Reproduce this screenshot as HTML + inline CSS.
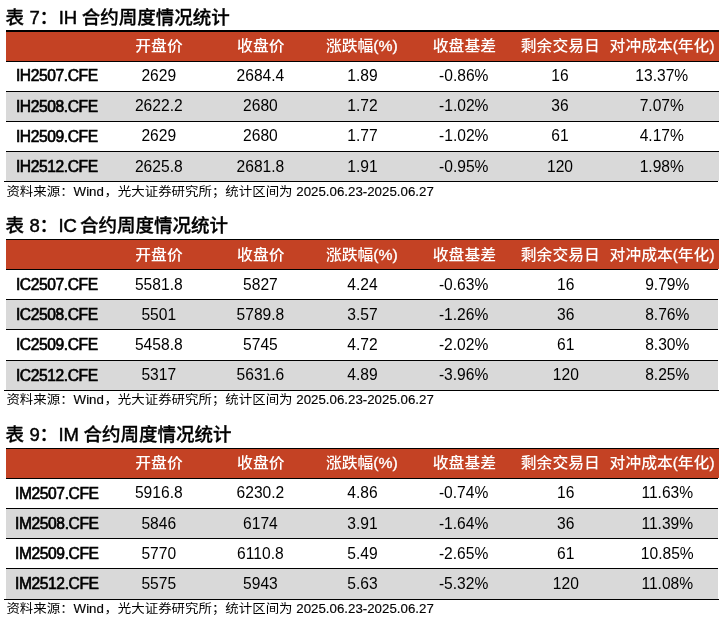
<!DOCTYPE html><html lang="zh-CN"><head><meta charset="utf-8"><title>合约周度情况统计</title><style>
html,body{margin:0;padding:0;background:#fff;}
body{width:723px;height:619px;position:relative;overflow:hidden;font-family:"Liberation Sans","Noto Sans CJK SC",sans-serif;color:#000;}
div,span{position:absolute;white-space:nowrap;}
.title{left:0;width:300px;height:26px;font-size:18.5px;line-height:26px;font-weight:500;-webkit-text-stroke:0.3px #000;}
.title span{top:0;}
.title .la{-webkit-text-stroke:0.45px #000;}
.bk{background:#000;}
.src span{position:static;font-size:13.3px;margin-right:0.5px;-webkit-text-stroke:0.15px #000;}
.src span+span{margin-right:0;}
.h .p{position:static;-webkit-text-stroke:0.35px #fff;}
.h .q{font-size:15px;}
.hd{left:6px;width:713px;background:#C44224;}
.ln{left:6px;width:713px;height:1px;background:#000;}
.bl{left:4px;width:714px;height:1px;background:#000;}
.g{left:6px;width:713px;background:#D9D9D9;}
.h{height:29px;line-height:29px;width:140px;text-align:center;color:#fff;font-weight:500;font-size:15.8px;transform:scaleY(0.95);transform-origin:50% 50%;}
.c{height:29px;line-height:29px;width:140px;text-align:center;font-size:15.6px;}
.n{left:-13.2px;width:140px;text-align:center;height:29px;line-height:29px;font-weight:400;-webkit-text-stroke:0.65px #000;font-size:15.6px;letter-spacing:-0.4px;}
.src{left:6.4px;font-size:13.45px;line-height:18px;height:18px;transform:scaleY(0.9);transform-origin:0 50%;}
</style></head><body>
<div class="title" style="top:5.3px"><span style="left:5.5px">表 </span><span class="la" style="left:29.4px">7</span><span style="left:39.4px">：</span><span class="la" style="left:58.7px">IH </span><span style="left:81.7px">合约周度情况统计</span></div>
<div class="bk" style="left:6px;width:713px;top:30px;height:2px"></div>
<div class="hd" style="top:32px;height:29px"></div>
<div class="h" style="top:31.1px;left:89px">开盘价</div>
<div class="h" style="top:31.1px;left:190.8px">收盘价</div>
<div class="h" style="top:31.1px;left:291.9px">涨跌幅<span class="p">(%)</span></div>
<div class="h" style="top:31.1px;left:394.4px">收盘基差</div>
<div class="h" style="top:31.1px;left:490.3px">剩余交易日</div>
<div class="h" style="top:31.1px;left:592.0px">对冲成本<span class="p q">(</span>年化<span class="p q">)</span></div>
<div class="n" style="top:61.0px">IH2507.CFE</div>
<div class="c" style="top:61.0px;left:88.8px">2629</div>
<div class="c" style="top:61.0px;left:190.4px">2684.4</div>
<div class="c" style="top:61.0px;left:292.4px">1.89</div>
<div class="c" style="top:61.0px;left:393.8px">-0.86%</div>
<div class="c" style="top:61.0px;left:490px">16</div>
<div class="c" style="top:61.0px;left:591.8px">13.37%</div>
<div class="g" style="top:92px;height:29px;width:713px"></div>
<div class="n" style="top:92.3px">IH2508.CFE</div>
<div class="c" style="top:91.3px;left:88.8px">2622.2</div>
<div class="c" style="top:91.3px;left:190.4px">2680</div>
<div class="c" style="top:91.3px;left:292.4px">1.72</div>
<div class="c" style="top:91.3px;left:393.8px">-1.02%</div>
<div class="c" style="top:91.3px;left:490px">36</div>
<div class="c" style="top:91.3px;left:591.8px">7.07%</div>
<div class="n" style="top:122.3px">IH2509.CFE</div>
<div class="c" style="top:121.0px;left:88.8px">2629</div>
<div class="c" style="top:121.0px;left:190.4px">2680</div>
<div class="c" style="top:121.0px;left:292.4px">1.77</div>
<div class="c" style="top:121.0px;left:393.8px">-1.02%</div>
<div class="c" style="top:121.0px;left:490px">61</div>
<div class="c" style="top:121.0px;left:591.8px">4.17%</div>
<div class="g" style="top:152px;height:29px;width:713px"></div>
<div class="n" style="top:152.3px">IH2512.CFE</div>
<div class="c" style="top:151.9px;left:88.8px">2625.8</div>
<div class="c" style="top:151.9px;left:190.4px">2681.8</div>
<div class="c" style="top:151.9px;left:292.4px">1.91</div>
<div class="c" style="top:151.9px;left:393.8px">-0.95%</div>
<div class="c" style="top:151.9px;left:490px">120</div>
<div class="c" style="top:151.9px;left:591.8px">1.98%</div>
<div class="ln" style="top:61px;width:713px"></div>
<div class="ln" style="top:91px;width:713px"></div>
<div class="ln" style="top:121px;width:713px"></div>
<div class="ln" style="top:151px;width:713px"></div>
<div class="bl" style="top:181px;width:714px"></div>
<div class="src" style="top:182.8px">资料来源：<span>Wind</span>，光大证券研究所；统计区间为 <span>2025.06.23-2025.06.27</span></div>
<div class="title" style="top:213.3px"><span style="left:5.5px">表 </span><span class="la" style="left:29.4px">8</span><span style="left:39.4px">：</span><span class="la" style="left:58.4px">IC </span><span style="left:79.9px">合约周度情况统计</span></div>
<div class="bk" style="left:6px;width:713px;top:239px;height:1px"></div>
<div class="hd" style="top:240px;height:29px"></div>
<div class="h" style="top:239.7px;left:89px">开盘价</div>
<div class="h" style="top:239.7px;left:190.8px">收盘价</div>
<div class="h" style="top:239.7px;left:291.9px">涨跌幅<span class="p">(%)</span></div>
<div class="h" style="top:239.7px;left:394.4px">收盘基差</div>
<div class="h" style="top:239.7px;left:490.3px">剩余交易日</div>
<div class="h" style="top:239.7px;left:592.0px">对冲成本<span class="p q">(</span>年化<span class="p q">)</span></div>
<div class="n" style="top:270.4px">IC2507.CFE</div>
<div class="c" style="top:270.1px;left:88.8px">5581.8</div>
<div class="c" style="top:270.1px;left:190.4px">5827</div>
<div class="c" style="top:270.1px;left:292.4px">4.24</div>
<div class="c" style="top:270.1px;left:393.6px">-0.63%</div>
<div class="c" style="top:270.1px;left:495.8px">16</div>
<div class="c" style="top:270.1px;left:597.3px">9.79%</div>
<div class="g" style="top:300px;height:29px;width:712px"></div>
<div class="n" style="top:300.3px">IC2508.CFE</div>
<div class="c" style="top:300.1px;left:88.8px">5501</div>
<div class="c" style="top:300.1px;left:190.4px">5789.8</div>
<div class="c" style="top:300.1px;left:292.4px">3.57</div>
<div class="c" style="top:300.1px;left:393.6px">-1.26%</div>
<div class="c" style="top:300.1px;left:495.8px">36</div>
<div class="c" style="top:300.1px;left:597.3px">8.76%</div>
<div class="n" style="top:330.3px">IC2509.CFE</div>
<div class="c" style="top:330.1px;left:88.8px">5458.8</div>
<div class="c" style="top:330.1px;left:190.4px">5745</div>
<div class="c" style="top:330.1px;left:292.4px">4.72</div>
<div class="c" style="top:330.1px;left:393.6px">-2.02%</div>
<div class="c" style="top:330.1px;left:495.8px">61</div>
<div class="c" style="top:330.1px;left:597.3px">8.30%</div>
<div class="g" style="top:361px;height:29px;width:712px"></div>
<div class="n" style="top:361.2px">IC2512.CFE</div>
<div class="c" style="top:360.4px;left:88.8px">5317</div>
<div class="c" style="top:360.4px;left:190.4px">5631.6</div>
<div class="c" style="top:360.4px;left:292.4px">4.89</div>
<div class="c" style="top:360.4px;left:393.6px">-3.96%</div>
<div class="c" style="top:360.4px;left:495.8px">120</div>
<div class="c" style="top:360.4px;left:597.3px">8.25%</div>
<div class="ln" style="top:269px;width:712px"></div>
<div class="ln" style="top:299px;width:712px"></div>
<div class="ln" style="top:329px;width:712px"></div>
<div class="ln" style="top:360px;width:712px"></div>
<div class="bl" style="top:390px;width:715px"></div>
<div class="src" style="top:391.4px">资料来源：<span>Wind</span>，光大证券研究所；统计区间为 <span>2025.06.23-2025.06.27</span></div>
<div class="title" style="top:422.3px"><span style="left:5.5px">表 </span><span class="la" style="left:29.4px">9</span><span style="left:39.4px">：</span><span class="la" style="left:58.4px">IM </span><span style="left:83.4px">合约周度情况统计</span></div>
<div class="bk" style="left:6px;width:713px;top:448px;height:1px"></div>
<div class="hd" style="top:449px;height:29px"></div>
<div class="h" style="top:448.1px;left:89px">开盘价</div>
<div class="h" style="top:448.1px;left:190.8px">收盘价</div>
<div class="h" style="top:448.1px;left:291.9px">涨跌幅<span class="p">(%)</span></div>
<div class="h" style="top:448.1px;left:394.4px">收盘基差</div>
<div class="h" style="top:448.1px;left:490.3px">剩余交易日</div>
<div class="h" style="top:448.1px;left:592.0px">对冲成本<span class="p q">(</span>年化<span class="p q">)</span></div>
<div class="n" style="top:479.3px">IM2507.CFE</div>
<div class="c" style="top:478.3px;left:88.8px">5916.8</div>
<div class="c" style="top:478.3px;left:190.4px">6230.2</div>
<div class="c" style="top:478.3px;left:292.4px">4.86</div>
<div class="c" style="top:478.3px;left:393.6px">-0.74%</div>
<div class="c" style="top:478.3px;left:495.8px">16</div>
<div class="c" style="top:478.3px;left:597.3px">11.63%</div>
<div class="g" style="top:509px;height:29px;width:712px"></div>
<div class="n" style="top:509.3px">IM2508.CFE</div>
<div class="c" style="top:508.8px;left:88.8px">5846</div>
<div class="c" style="top:508.8px;left:190.4px">6174</div>
<div class="c" style="top:508.8px;left:292.4px">3.91</div>
<div class="c" style="top:508.8px;left:393.6px">-1.64%</div>
<div class="c" style="top:508.8px;left:495.8px">36</div>
<div class="c" style="top:508.8px;left:597.3px">11.39%</div>
<div class="n" style="top:539.3px">IM2509.CFE</div>
<div class="c" style="top:538.8px;left:88.8px">5770</div>
<div class="c" style="top:538.8px;left:190.4px">6110.8</div>
<div class="c" style="top:538.8px;left:292.4px">5.49</div>
<div class="c" style="top:538.8px;left:393.6px">-2.65%</div>
<div class="c" style="top:538.8px;left:495.8px">61</div>
<div class="c" style="top:538.8px;left:597.3px">10.85%</div>
<div class="g" style="top:569px;height:30px;width:712px"></div>
<div class="n" style="top:569.3px">IM2512.CFE</div>
<div class="c" style="top:569.1px;left:88.8px">5575</div>
<div class="c" style="top:569.1px;left:190.4px">5943</div>
<div class="c" style="top:569.1px;left:292.4px">5.63</div>
<div class="c" style="top:569.1px;left:393.6px">-5.32%</div>
<div class="c" style="top:569.1px;left:495.8px">120</div>
<div class="c" style="top:569.1px;left:597.3px">11.08%</div>
<div class="ln" style="top:478px;width:712px"></div>
<div class="ln" style="top:508px;width:712px"></div>
<div class="ln" style="top:538px;width:712px"></div>
<div class="ln" style="top:568px;width:712px"></div>
<div class="bl" style="top:599px;width:715px"></div>
<div class="src" style="top:599.7px">资料来源：<span>Wind</span>，光大证券研究所；统计区间为 <span>2025.06.23-2025.06.27</span></div>
</body></html>
